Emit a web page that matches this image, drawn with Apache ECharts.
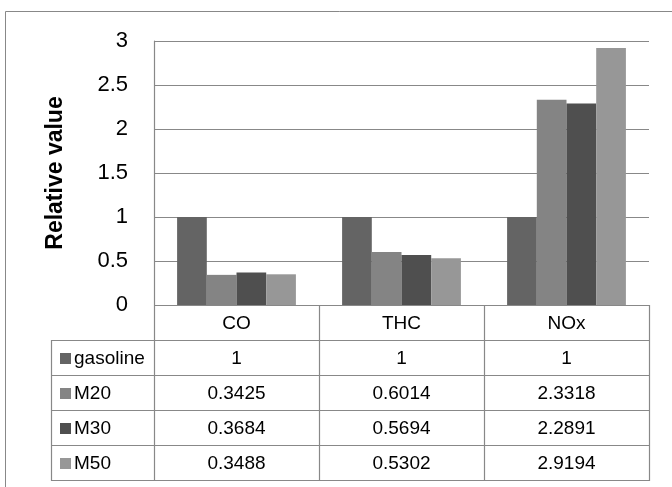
<!DOCTYPE html>
<html>
<head>
<meta charset="utf-8">
<script src="https://cdn.jsdelivr.net/npm/echarts@6/dist/echarts.min.js"></script>
<style>
html,body{margin:0;padding:0;background:#fff;}
#c{width:672px;height:487px;}
</style>
</head>
<body>
<div id="c"></div>
<script>
const categories = ['CO', 'THC', 'NOx'];
const seriesNames = ['gasoline', 'M20', 'M30', 'M50'];
const gasoline = [1, 1, 1];
const m20 = [0.3425, 0.6014, 2.3318];
const m30 = [0.3684, 0.5694, 2.2891];
const m50 = [0.3488, 0.5302, 2.9194];
const seriesValues = [gasoline, m20, m30, m50];
const seriesColors = ['#646464', '#848484', '#4f4f4f', '#979797'];
const yAxisTitle = 'Relative value';

const W = 672, H = 487;
const plotL = 154, plotR = 649, plotT = 41, plotB = 305;
const rowH = 35;
const tableL = 51;
const lineColor = '#888888';
const FONT = '"Liberation Sans", Arial, sans-serif';

const chart = echarts.init(document.getElementById('c'), null, {renderer: 'canvas'});

const colW = (plotR - plotL) / categories.length;
const graphics = [];

// outer frame
graphics.push({type: 'rect', shape: {x: 5.5, y: 11.5, width: 700, height: 500},
  style: {fill: 'none', stroke: lineColor, lineWidth: 1}, silent: true});

// y axis title
graphics.push({type: 'text', x: 56, y: (plotT + plotB) / 2, rotation: Math.PI / 2,
  style: {text: yAxisTitle, font: 'bold 23px ' + FONT, fill: '#000', align: 'center', verticalAlign: 'middle'}});

// table lines
const nRows = seriesNames.length;
const tableBottom = plotB + rowH * (nRows + 1);
function hline(x1, x2, y) {
  graphics.push({type: 'line', shape: {x1: x1, y1: y + 0.5, x2: x2, y2: y + 0.5},
    style: {stroke: lineColor, lineWidth: 1.2}, silent: true});
}
function vline(x, y1, y2) {
  graphics.push({type: 'line', shape: {x1: x + 0.5, y1: y1, x2: x + 0.5, y2: y2},
    style: {stroke: lineColor, lineWidth: 1.2}, silent: true});
}
hline(plotL, plotR, plotB);
for (let r = 1; r <= nRows + 1; r++) hline(tableL, plotR, plotB + rowH * r);
vline(tableL, plotB + rowH, tableBottom + 1);
for (let c = 0; c <= categories.length; c++) vline(Math.round(plotL + colW * c), plotB, tableBottom + 1);

// header texts
categories.forEach((cat, c) => {
  graphics.push({type: 'text', x: plotL + colW * (c + 0.5), y: plotB + rowH / 2 + 1,
    style: {text: cat, font: '19px ' + FONT, fill: '#000', align: 'center', verticalAlign: 'middle'}});
});
// rows
seriesNames.forEach((name, r) => {
  const cy = plotB + rowH * (r + 1.5) + 1;
  graphics.push({type: 'rect', shape: {x: 60, y: cy - 5.5, width: 11, height: 11},
    style: {fill: seriesColors[r]}, silent: true});
  graphics.push({type: 'text', x: 74, y: cy,
    style: {text: name, font: '19px ' + FONT, fill: '#000', align: 'left', verticalAlign: 'middle'}});
  seriesValues[r].forEach((v, c) => {
    graphics.push({type: 'text', x: plotL + colW * (c + 0.5), y: cy,
      style: {text: String(v), font: '19px ' + FONT, fill: '#000', align: 'center', verticalAlign: 'middle'}});
  });
});

const option = {
  animation: false,
  backgroundColor: '#fff',
  grid: {left: plotL, right: W - plotR, top: plotT, bottom: H - plotB, containLabel: false},
  xAxis: {
    type: 'category', data: categories,
    axisLine: {show: false}, axisTick: {show: false}, axisLabel: {show: false},
    splitLine: {show: false}
  },
  yAxis: {
    type: 'value', min: 0, max: 3, interval: 0.5,
    axisLine: {show: true, lineStyle: {color: lineColor, width: 1.2}},
    axisTick: {show: false},
    axisLabel: {fontSize: 22, fontFamily: FONT, color: '#000', margin: 26},
    splitLine: {show: true, lineStyle: {color: lineColor, width: 1.2}}
  },
  series: seriesNames.map((name, i) => ({
    name: name, type: 'bar', data: seriesValues[i],
    barGap: '0%', barCategoryGap: '28%',
    itemStyle: {color: seriesColors[i]}
  })),
  graphic: graphics
};
chart.setOption(option);
</script>
</body>
</html>
